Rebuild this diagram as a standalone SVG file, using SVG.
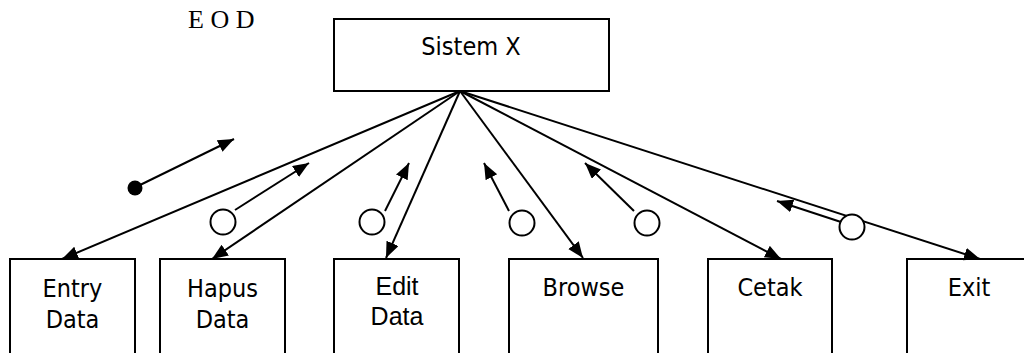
<svg xmlns="http://www.w3.org/2000/svg" width="1024" height="353" viewBox="0 0 1024 353">
<style>
.box{fill:#fff;stroke:#000;stroke-width:2}
.lbl{font-family:'DejaVu Sans Condensed','DejaVu Sans','Liberation Sans',sans-serif;font-stretch:condensed;font-size:25px;fill:#000;text-anchor:middle}
.lbl2{font-family:'Liberation Sans',Arial,sans-serif;font-size:25px;fill:#000;text-anchor:middle}
.ln{stroke:#000;stroke-width:2;fill:none;marker-end:url(#ah)}
.cp{stroke:#000;stroke-width:2;fill:none;marker-end:url(#ah)}
.oc{fill:#fff;stroke:#000;stroke-width:2}
</style>
<defs>
<marker id="ah" markerUnits="userSpaceOnUse" markerWidth="18" markerHeight="14" refX="16" refY="6.5" orient="auto" viewBox="0 0 18 14">
<path d="M0,0 L16,6.5 L0,13 z" fill="#000"/>
</marker>
</defs>
<text x="188" y="28" font-family="'Liberation Serif','Times New Roman',serif" font-size="26" fill="#000">E O D</text>
<g id="sistem-x">
<rect class="box" x="334" y="19" width="275" height="72"/>
<text class="lbl" x="471" y="55">Sistem X</text>
</g>
<g id="entry-data">
<rect class="box" x="10" y="259" width="125" height="110"/>
<text class="lbl" x="72.5" y="297">Entry</text>
<text class="lbl" x="72.5" y="328">Data</text>
</g>
<g id="hapus-data">
<rect class="box" x="160" y="259" width="125" height="110"/>
<text class="lbl" x="222.5" y="297">Hapus</text>
<text class="lbl" x="222.5" y="328">Data</text>
</g>
<g id="edit-data">
<rect class="box" x="334" y="259" width="125" height="110"/>
<text class="lbl2" x="397" y="295">Edit</text>
<text class="lbl2" x="397" y="325">Data</text>
</g>
<g id="browse">
<rect class="box" x="509" y="259" width="149" height="110"/>
<text class="lbl" x="583.5" y="296">Browse</text>
</g>
<g id="cetak">
<rect class="box" x="708" y="259" width="124" height="110"/>
<text class="lbl" x="770" y="296">Cetak</text>
</g>
<g id="exit">
<rect class="box" x="907" y="259" width="125" height="110"/>
<text class="lbl" x="969" y="296">Exit</text>
</g>
<g id="connectors">
<line class="ln" x1="460" y1="91" x2="62" y2="259"/>
<line class="ln" x1="460" y1="91" x2="212" y2="259"/>
<line class="ln" x1="460" y1="91" x2="386" y2="258"/>
<line class="ln" x1="460" y1="91" x2="583" y2="258"/>
<line class="ln" x1="460" y1="91" x2="781" y2="259"/>
<line class="ln" x1="460" y1="91" x2="980" y2="259"/>
</g>
<g id="couples">
<circle cx="135" cy="188" r="7.5" fill="#000"/>
<line class="cp" x1="138" y1="186" x2="234" y2="139"/>
<circle class="oc" cx="223" cy="222" r="12.5"/>
<line class="cp" x1="235" y1="210" x2="309" y2="163"/>
<circle class="oc" cx="372" cy="222" r="12.5"/>
<line class="cp" x1="385" y1="211" x2="409" y2="163"/>
<circle class="oc" cx="522" cy="223" r="12.5"/>
<line class="cp" x1="509" y1="211" x2="484" y2="163"/>
<circle class="oc" cx="647" cy="223" r="12.5"/>
<line class="cp" x1="634" y1="211" x2="585" y2="163"/>
<line class="cp" x1="841" y1="222" x2="777" y2="201"/>
<circle class="oc" cx="852" cy="227" r="12.5"/>
</g>
</svg>
